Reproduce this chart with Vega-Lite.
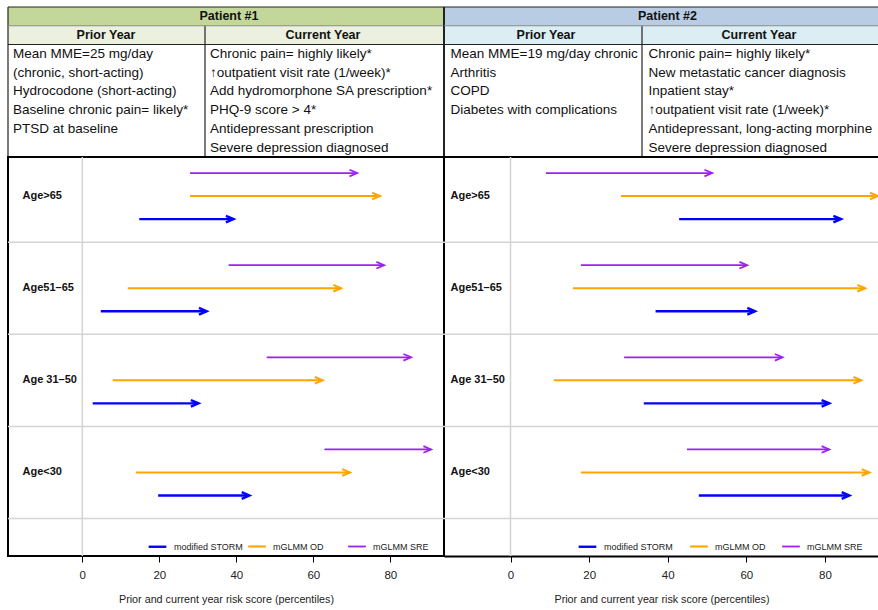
{
"$schema": "https://vega.github.io/schema/vega-lite/v6.json",
"padding": {"left": 6, "top": 6, "right": 0, "bottom": 0},
"config": {"font": "Liberation Sans", "view": {"stroke": null}, "scale": {"pointPadding": 0}},
"bounds": "flush",
"spacing": 0,
"columns": 2,
"datasets": {
"arrows": [
{"patient": "Patient #1", "age": "Age>65", "model": "modified STORM", "prior": 14.8, "current": 39.3},
{"patient": "Patient #1", "age": "Age>65", "model": "mGLMM OD", "prior": 28.0, "current": 77.3},
{"patient": "Patient #1", "age": "Age>65", "model": "mGLMM SRE", "prior": 28.0, "current": 71.4},
{"patient": "Patient #1", "age": "Age51–65", "model": "modified STORM", "prior": 4.8, "current": 32.3},
{"patient": "Patient #1", "age": "Age51–65", "model": "mGLMM OD", "prior": 11.8, "current": 67.2},
{"patient": "Patient #1", "age": "Age51–65", "model": "mGLMM SRE", "prior": 38.0, "current": 78.4},
{"patient": "Patient #1", "age": "Age 31–50", "model": "modified STORM", "prior": 2.7, "current": 30.2},
{"patient": "Patient #1", "age": "Age 31–50", "model": "mGLMM OD", "prior": 7.9, "current": 62.4},
{"patient": "Patient #1", "age": "Age 31–50", "model": "mGLMM SRE", "prior": 47.9, "current": 85.4},
{"patient": "Patient #1", "age": "Age<30", "model": "modified STORM", "prior": 19.7, "current": 43.4},
{"patient": "Patient #1", "age": "Age<30", "model": "mGLMM OD", "prior": 13.9, "current": 69.5},
{"patient": "Patient #1", "age": "Age<30", "model": "mGLMM SRE", "prior": 62.9, "current": 90.6},
{"patient": "Patient #2", "age": "Age>65", "model": "modified STORM", "prior": 42.9, "current": 84.1},
{"patient": "Patient #2", "age": "Age>65", "model": "mGLMM OD", "prior": 28.1, "current": 93.4},
{"patient": "Patient #2", "age": "Age>65", "model": "mGLMM SRE", "prior": 9.0, "current": 51.3},
{"patient": "Patient #2", "age": "Age51–65", "model": "modified STORM", "prior": 36.9, "current": 62.2},
{"patient": "Patient #2", "age": "Age51–65", "model": "mGLMM OD", "prior": 15.9, "current": 90.2},
{"patient": "Patient #2", "age": "Age51–65", "model": "mGLMM SRE", "prior": 17.9, "current": 60.2},
{"patient": "Patient #2", "age": "Age 31–50", "model": "modified STORM", "prior": 33.9, "current": 81.1},
{"patient": "Patient #2", "age": "Age 31–50", "model": "mGLMM OD", "prior": 11.0, "current": 89.2},
{"patient": "Patient #2", "age": "Age 31–50", "model": "mGLMM SRE", "prior": 28.9, "current": 69.2},
{"patient": "Patient #2", "age": "Age<30", "model": "modified STORM", "prior": 47.9, "current": 86.2},
{"patient": "Patient #2", "age": "Age<30", "model": "mGLMM OD", "prior": 17.9, "current": 91.3},
{"patient": "Patient #2", "age": "Age<30", "model": "mGLMM SRE", "prior": 44.9, "current": 81.1}
],
"table": [
{"patient": "Patient #1", "line": 0, "col": "Patient", "text": "Patient #1"},
{"patient": "Patient #1", "line": 1, "col": "Prior Year", "text": "Prior Year"},
{"patient": "Patient #1", "line": 1, "col": "Current Year", "text": "Current Year"},
{"patient": "Patient #1", "line": 2, "col": "Prior Year", "text": "Mean MME=25 mg/day"},
{"patient": "Patient #1", "line": 3, "col": "Prior Year", "text": "(chronic, short-acting)"},
{"patient": "Patient #1", "line": 4, "col": "Prior Year", "text": "Hydrocodone (short-acting)"},
{"patient": "Patient #1", "line": 5, "col": "Prior Year", "text": "Baseline chronic pain= likely*"},
{"patient": "Patient #1", "line": 6, "col": "Prior Year", "text": "PTSD at baseline"},
{"patient": "Patient #1", "line": 2, "col": "Current Year", "text": "Chronic pain= highly likely*"},
{"patient": "Patient #1", "line": 3, "col": "Current Year", "text": "↑outpatient visit rate (1/week)*"},
{"patient": "Patient #1", "line": 4, "col": "Current Year", "text": "Add hydromorphone SA prescription*"},
{"patient": "Patient #1", "line": 5, "col": "Current Year", "text": "PHQ-9 score > 4*"},
{"patient": "Patient #1", "line": 6, "col": "Current Year", "text": "Antidepressant prescription"},
{"patient": "Patient #1", "line": 7, "col": "Current Year", "text": "Severe depression diagnosed"},
{"patient": "Patient #2", "line": 0, "col": "Patient", "text": "Patient #2"},
{"patient": "Patient #2", "line": 1, "col": "Prior Year", "text": "Prior Year"},
{"patient": "Patient #2", "line": 1, "col": "Current Year", "text": "Current Year"},
{"patient": "Patient #2", "line": 2, "col": "Prior Year", "text": "Mean MME=19 mg/day chronic"},
{"patient": "Patient #2", "line": 3, "col": "Prior Year", "text": "Arthritis"},
{"patient": "Patient #2", "line": 4, "col": "Prior Year", "text": "COPD"},
{"patient": "Patient #2", "line": 5, "col": "Prior Year", "text": "Diabetes with complications"},
{"patient": "Patient #2", "line": 2, "col": "Current Year", "text": "Chronic pain= highly likely*"},
{"patient": "Patient #2", "line": 3, "col": "Current Year", "text": "New metastatic cancer diagnosis"},
{"patient": "Patient #2", "line": 4, "col": "Current Year", "text": "Inpatient stay*"},
{"patient": "Patient #2", "line": 5, "col": "Current Year", "text": "↑outpatient visit rate (1/week)*"},
{"patient": "Patient #2", "line": 6, "col": "Current Year", "text": "Antidepressant, long-acting morphine"},
{"patient": "Patient #2", "line": 7, "col": "Current Year", "text": "Severe depression diagnosed"}
]
},
"resolve": {"scale": {"x": "independent", "y": "independent", "color": "independent", "yOffset": "independent", "strokeWidth": "independent"}, "legend": {"color": "independent"}, "axis": {"x": "independent", "y": "independent"}},
"concat": [
{
"width": 436, "height": 150,
"data": {"name": "table"},
"transform": [{"filter": "datum.patient === 'Patient #1'"}],
"layer": [
{"transform": [{"filter": "datum.line === 1 && datum.col === 'Prior Year'"}], "mark": {"type": "rect", "fill": "#ebf1de"},
 "encoding": {"y": {"field": "line", "type": "ordinal", "scale": {"domain": [0,1,2,3,4,5,6,7], "paddingInner": 0, "paddingOuter": 0}, "axis": null}}},
{"transform": [{"filter": "datum.line === 0"}], "mark": {"type": "rule", "color": "#222", "strokeWidth": 1.2},
 "encoding": {"x": {"datum": "Current Year", "type": "nominal", "scale": {"type": "point", "domain": ["Prior Year", "Current Year"], "range": [0, 197], "padding": 0}, "axis": null}}},
{"transform": [{"filter": "datum.line === 0"}], "mark": {"type": "rect", "fill": "#c4d79b"},
 "encoding": {"y": {"field": "line", "type": "ordinal", "axis": null}}},
{"transform": [{"filter": "datum.line === 0"}], "mark": {"type": "rule", "color": "#222", "strokeWidth": 1.2},
 "encoding": {"x": {"datum": "Prior Year", "type": "nominal", "axis": null}}},
{"transform": [{"filter": "datum.line === 0"}], "mark": {"type": "rule", "color": "#222", "strokeWidth": 1.2},
 "encoding": {"y": {"datum": 0, "type": "ordinal", "bandPosition": 0, "axis": null}}},
{"transform": [{"filter": "datum.line === 0"}], "mark": {"type": "rule", "color": "#8a8a8a", "strokeWidth": 1},
 "encoding": {"y": {"datum": 0, "type": "ordinal", "bandPosition": 1, "axis": null}}},
{"transform": [{"filter": "datum.line === 0"}], "mark": {"type": "rule", "color": "#222", "strokeWidth": 1.2},
 "encoding": {"y": {"datum": 1, "type": "ordinal", "bandPosition": 1, "axis": null}}},
{"transform": [{"filter": "datum.line === 0"}], "mark": {"type": "text", "fontWeight": "bold", "fontSize": 12.5, "color": "#111", "baseline": "middle", "dx": 3},
 "encoding": {"y": {"field": "line", "type": "ordinal", "axis": null}, "text": {"field": "text"}}},
{"transform": [{"filter": "datum.line === 1 && datum.col === 'Prior Year'"}], "mark": {"type": "text", "fontWeight": "bold", "fontSize": 12.5, "color": "#111", "baseline": "middle", "align": "center", "dx": 98},
 "encoding": {"x": {"field": "col", "type": "nominal", "axis": null}, "y": {"field": "line", "type": "ordinal", "axis": null}, "text": {"field": "text"}}},
{"transform": [{"filter": "datum.line === 1 && datum.col === 'Current Year'"}], "mark": {"type": "text", "fontWeight": "bold", "fontSize": 12.5, "color": "#111", "baseline": "middle", "align": "center", "dx": 118},
 "encoding": {"x": {"field": "col", "type": "nominal", "axis": null}, "y": {"field": "line", "type": "ordinal", "axis": null}, "text": {"field": "text"}}},
{"transform": [{"filter": "datum.line >= 2"}], "mark": {"type": "text", "fontSize": 13.5, "color": "#111", "baseline": "middle", "align": "left", "dx": 5},
 "encoding": {"x": {"field": "col", "type": "nominal", "axis": null}, "y": {"field": "line", "type": "ordinal", "axis": null}, "text": {"field": "text"}}},
{"transform": [{"filter": "datum.line === 0"}], "mark": {"type": "rule", "color": "#000", "strokeWidth": 2},
 "encoding": {"y": {"datum": 7, "type": "ordinal", "bandPosition": 1, "axis": null}}}
]
},
{
"width": 435, "height": 150,
"data": {"name": "table"},
"transform": [{"filter": "datum.patient === 'Patient #2'"}],
"layer": [
{"transform": [{"filter": "datum.line === 1 && datum.col === 'Prior Year'"}], "mark": {"type": "rect", "fill": "#daeef3"},
 "encoding": {"y": {"field": "line", "type": "ordinal", "scale": {"domain": [0,1,2,3,4,5,6,7], "paddingInner": 0, "paddingOuter": 0}, "axis": null}}},
{"transform": [{"filter": "datum.line === 0"}], "mark": {"type": "rule", "color": "#222", "strokeWidth": 1.2},
 "encoding": {"x": {"datum": "Current Year", "type": "nominal", "scale": {"type": "point", "domain": ["Prior Year", "Current Year"], "range": [0, 198], "padding": 0}, "axis": null}}},
{"transform": [{"filter": "datum.line === 0"}], "mark": {"type": "rect", "fill": "#b8cce4"},
 "encoding": {"y": {"field": "line", "type": "ordinal", "axis": null}}},
{"transform": [{"filter": "datum.line === 0"}], "mark": {"type": "rule", "color": "#222", "strokeWidth": 2},
 "encoding": {"x": {"datum": "Prior Year", "type": "nominal", "axis": null}}},
{"transform": [{"filter": "datum.line === 0"}], "mark": {"type": "rule", "color": "#222", "strokeWidth": 1.2},
 "encoding": {"y": {"datum": 0, "type": "ordinal", "bandPosition": 0, "axis": null}}},
{"transform": [{"filter": "datum.line === 0"}], "mark": {"type": "rule", "color": "#8a8a8a", "strokeWidth": 1},
 "encoding": {"y": {"datum": 0, "type": "ordinal", "bandPosition": 1, "axis": null}}},
{"transform": [{"filter": "datum.line === 0"}], "mark": {"type": "rule", "color": "#222", "strokeWidth": 1.2},
 "encoding": {"y": {"datum": 1, "type": "ordinal", "bandPosition": 1, "axis": null}}},
{"transform": [{"filter": "datum.line === 0"}], "mark": {"type": "text", "fontWeight": "bold", "fontSize": 12.5, "color": "#111", "baseline": "middle", "dx": 6},
 "encoding": {"y": {"field": "line", "type": "ordinal", "axis": null}, "text": {"field": "text"}}},
{"transform": [{"filter": "datum.line === 1 && datum.col === 'Prior Year'"}], "mark": {"type": "text", "fontWeight": "bold", "fontSize": 12.5, "color": "#111", "baseline": "middle", "align": "center", "dx": 102},
 "encoding": {"x": {"field": "col", "type": "nominal", "axis": null}, "y": {"field": "line", "type": "ordinal", "axis": null}, "text": {"field": "text"}}},
{"transform": [{"filter": "datum.line === 1 && datum.col === 'Current Year'"}], "mark": {"type": "text", "fontWeight": "bold", "fontSize": 12.5, "color": "#111", "baseline": "middle", "align": "center", "dx": 117},
 "encoding": {"x": {"field": "col", "type": "nominal", "axis": null}, "y": {"field": "line", "type": "ordinal", "axis": null}, "text": {"field": "text"}}},
{"transform": [{"filter": "datum.line >= 2"}], "mark": {"type": "text", "fontSize": 13.5, "color": "#111", "baseline": "middle", "align": "left", "dx": 6.5},
 "encoding": {"x": {"field": "col", "type": "nominal", "axis": null}, "y": {"field": "line", "type": "ordinal", "axis": null}, "text": {"field": "text"}}},
{"transform": [{"filter": "datum.line === 0"}], "mark": {"type": "rule", "color": "#000", "strokeWidth": 2},
 "encoding": {"y": {"datum": 7, "type": "ordinal", "bandPosition": 1, "axis": null}}}
]
},
{
"width": 436, "height": 399,
"view": {"stroke": "#000", "strokeWidth": 2},
"data": {"name": "arrows"},
"transform": [{"filter": "datum.patient === 'Patient #1'"}],
"layer": [
{"transform": [{"filter": "datum.model === 'modified STORM'"}], "mark": {"type": "rule", "color": "#d4d4d4", "strokeWidth": 1.5},
 "encoding": {"y": {"field": "age", "type": "nominal", "bandPosition": 1,
   "scale": {"domain": ["Age>65", "Age51–65", "Age 31–50", "Age<30"], "range": [-7, 361.5], "paddingInner": 0, "paddingOuter": 0},
   "axis": {"title": null, "ticks": false, "domain": false, "grid": false, "labelAlign": "left", "labelPadding": -14, "labelFontSize": 11, "labelFontWeight": "bold", "labelColor": "#111", "labelBaseline": "middle"}}}},
{"transform": [{"filter": "datum.model === 'modified STORM' && datum.age === 'Age>65'"}], "mark": {"type": "rule", "color": "#d4d4d4", "strokeWidth": 1.5},
 "encoding": {"x": {"datum": 0, "type": "quantitative",
   "scale": {"domain": [-19.3, 93.95], "nice": false, "zero": false},
   "axis": {"values": [0, 20, 40, 60, 80], "title": "Prior and current year risk score (percentiles)", "grid": false, "domain": false, "tickColor": "#000", "tickSize": 6, "tickWidth": 1, "labelFontSize": 11.5, "labelColor": "#222", "labelPadding": 7, "titleFontSize": 10.75, "titleFontWeight": "normal", "titleColor": "#222", "titlePadding": 14, "labelFlush": false}}}},
{"mark": {"type": "rule"},
 "encoding": {
   "x": {"field": "prior", "type": "quantitative"},
   "x2": {"field": "current"},
   "y": {"field": "age", "type": "nominal"},
   "yOffset": {"field": "model", "type": "nominal", "scale": {"domain": ["mGLMM SRE", "mGLMM OD", "modified STORM"], "paddingInner": 0, "paddingOuter": 0.5}},
   "color": {"field": "model", "type": "nominal", "scale": {"domain": ["modified STORM", "mGLMM OD", "mGLMM SRE"], "range": ["#0000ff", "#ffa500", "#a020f0"]},
     "legend": {"title": null, "orient": "none", "legendX": 139, "legendY": 379, "direction": "horizontal", "symbolType": "stroke", "symbolSize": 313, "symbolStrokeWidth": 2.2, "labelFontSize": 9, "labelColor": "#222", "labelOffset": 6, "columnPadding": 0, "gridAlign": "all", "padding": 0}},
   "strokeWidth": {"field": "model", "type": "ordinal", "scale": {"domain": ["modified STORM", "mGLMM OD", "mGLMM SRE"], "range": [2.4, 1.8, 1.8]}, "legend": null}}},
{"mark": {"type": "point", "shape": "M-1,-0.43L0,0L-1,0.43", "filled": false, "size": 237, "opacity": 1},
 "encoding": {
   "x": {"field": "current", "type": "quantitative"},
   "y": {"field": "age", "type": "nominal"},
   "yOffset": {"field": "model", "type": "nominal"},
   "color": {"field": "model", "type": "nominal", "legend": null},
   "strokeWidth": {"field": "model", "type": "ordinal", "legend": null}}}
]
},
{
"width": 435, "height": 399,
"data": {"name": "arrows"},
"transform": [{"filter": "datum.patient === 'Patient #2'"}],
"layer": [
{"transform": [{"filter": "datum.model === 'modified STORM'"}], "mark": {"type": "rule", "color": "#d4d4d4", "strokeWidth": 1.5},
 "encoding": {"y": {"field": "age", "type": "nominal", "bandPosition": 1,
   "scale": {"domain": ["Age>65", "Age51–65", "Age 31–50", "Age<30"], "range": [-7, 361.5], "paddingInner": 0, "paddingOuter": 0},
   "axis": {"title": null, "ticks": false, "domain": false, "grid": false, "labelAlign": "left", "labelPadding": -6, "labelFontSize": 11, "labelFontWeight": "bold", "labelColor": "#111", "labelBaseline": "middle"}}}},
{"transform": [{"filter": "datum.model === 'modified STORM' && datum.age === 'Age>65'"}], "mark": {"type": "rule", "color": "#d4d4d4", "strokeWidth": 1.5},
 "encoding": {"x": {"datum": 0, "type": "quantitative",
   "scale": {"domain": [-16.92, 93.74], "nice": false, "zero": false},
   "axis": {"values": [0, 20, 40, 60, 80], "title": "Prior and current year risk score (percentiles)", "grid": false, "domain": true, "domainColor": "#000", "domainWidth": 2, "tickColor": "#000", "tickSize": 6, "tickWidth": 1, "labelFontSize": 11.5, "labelColor": "#222", "labelPadding": 7, "titleFontSize": 10.75, "titleFontWeight": "normal", "titleColor": "#222", "titlePadding": 14, "labelFlush": false}}}},
{"mark": {"type": "rule"},
 "encoding": {
   "x": {"field": "prior", "type": "quantitative"},
   "x2": {"field": "current"},
   "y": {"field": "age", "type": "nominal"},
   "yOffset": {"field": "model", "type": "nominal", "scale": {"domain": ["mGLMM SRE", "mGLMM OD", "modified STORM"], "paddingInner": 0, "paddingOuter": 0.5}},
   "color": {"field": "model", "type": "nominal", "scale": {"domain": ["modified STORM", "mGLMM OD", "mGLMM SRE"], "range": ["#0000ff", "#ffa500", "#a020f0"]},
     "legend": {"title": null, "orient": "none", "legendX": 133, "legendY": 379, "direction": "horizontal", "symbolType": "stroke", "symbolSize": 313, "symbolStrokeWidth": 2.2, "labelFontSize": 9, "labelColor": "#222", "labelOffset": 6, "columnPadding": 12, "gridAlign": "each", "padding": 0}},
   "strokeWidth": {"field": "model", "type": "ordinal", "scale": {"domain": ["modified STORM", "mGLMM OD", "mGLMM SRE"], "range": [2.4, 1.8, 1.8]}, "legend": null}}},
{"mark": {"type": "point", "shape": "M-1,-0.43L0,0L-1,0.43", "filled": false, "size": 237, "opacity": 1},
 "encoding": {
   "x": {"field": "current", "type": "quantitative"},
   "y": {"field": "age", "type": "nominal"},
   "yOffset": {"field": "model", "type": "nominal"},
   "color": {"field": "model", "type": "nominal", "legend": null},
   "strokeWidth": {"field": "model", "type": "ordinal", "legend": null}}}
]
}
]
}
